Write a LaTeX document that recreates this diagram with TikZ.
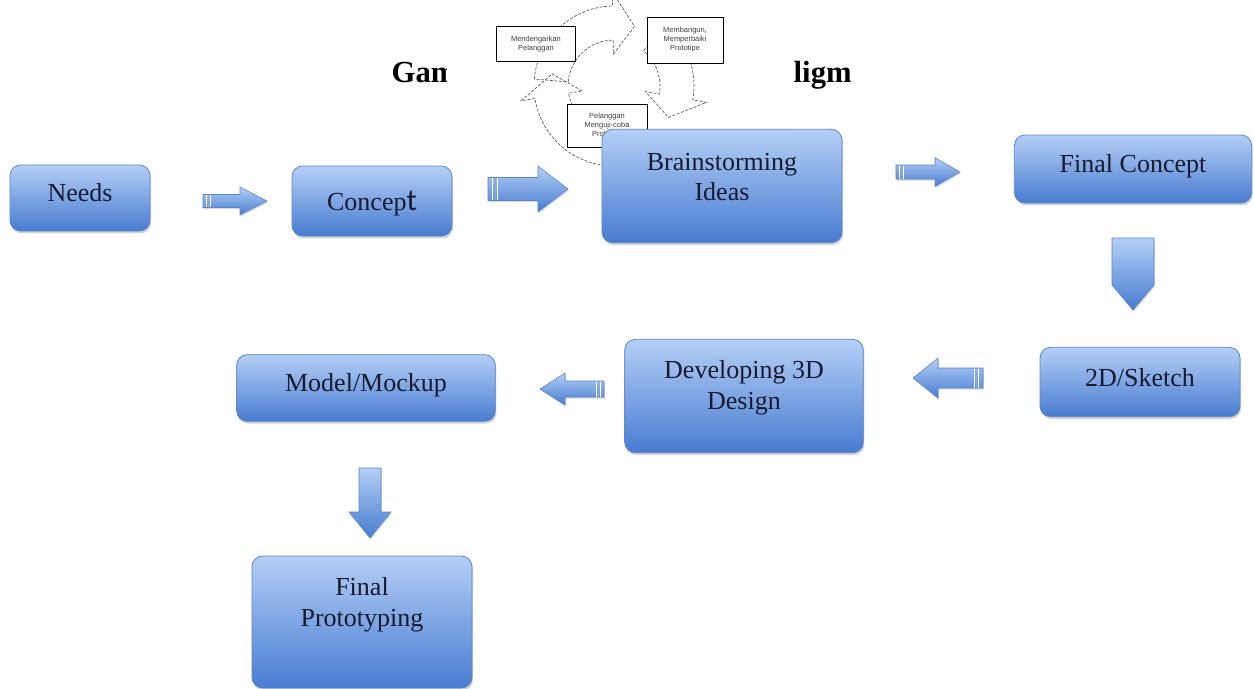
\documentclass[tikz,border=0pt]{standalone}
\usepackage{fontspec}
\setmainfont{Liberation Serif}
\newfontfamily\cyfont{Liberation Sans}
\newfontfamily\tfont{Carlito}
\usetikzlibrary{shadows}

\definecolor{boxtop}{HTML}{B4CFF6}
\definecolor{boxbot}{HTML}{487CD1}
\definecolor{boxedge}{HTML}{5A85C6}
\definecolor{txtc}{HTML}{1A1A2E}

\tikzset{
  stepbox/.style={rectangle, rounded corners=8pt, top color=boxtop, bottom color=boxbot,
    draw=boxedge, line width=0.6pt, inner sep=0pt,
    drop shadow={opacity=0.35, shadow xshift=0.8pt, shadow yshift=-1.8pt}},
  boxtext/.style={align=center, text=txtc, font=\fontsize{19.5}{23}\selectfont, inner sep=0pt},
  arrowshade/.style={top color=boxtop, bottom color=boxbot, draw=boxedge, line width=0.4pt,
    drop shadow={opacity=0.3, shadow xshift=0.6pt, shadow yshift=-1.2pt}},
  cycarrow/.style={draw=black!65, dash pattern=on 2.2pt off 1.2pt, line width=0.5pt},
  cycbox/.style={draw=black, fill=white, line width=0.6pt, text=black!75,
    font=\cyfont\fontsize{5.6}{6.8}\selectfont, align=center, inner sep=1pt},
  titletext/.style={anchor=base west, font=\bfseries\fontsize{23}{27}\selectfont},
}

% horizontal block arrow: tail x, tip x, centre y, head half-width, body half-width, head base x
\newcommand{\harrow}[6]{%
  \shadedraw[arrowshade] (#1,#3-#5) -- (#6,#3-#5) -- (#6,#3-#4) -- (#2,#3)
     -- (#6,#3+#4) -- (#6,#3+#5) -- (#1,#3+#5) -- cycle;
  \draw[white, line width=0.7pt] ({#1+0.06*(#2-#1)},#3-#5+0.5) -- ({#1+0.06*(#2-#1)},#3+#5-0.5);
  \draw[white, line width=0.7pt] ({#1+0.12*(#2-#1)},#3-#5+0.5) -- ({#1+0.12*(#2-#1)},#3+#5-0.5);
  \draw[boxedge!70, line width=0.4pt] ({#1+0.09*(#2-#1)},#3-#5+0.5) -- ({#1+0.09*(#2-#1)},#3+#5-0.5);
}
% vertical block arrow: tail y, tip y, centre x, head half-width, body half-width, head base y
\newcommand{\varrow}[6]{%
  \shadedraw[arrowshade] (#3-#5,#1) -- (#3-#5,#6) -- (#3-#4,#6) -- (#3,#2)
     -- (#3+#4,#6) -- (#3+#5,#6) -- (#3+#5,#1) -- cycle;
}
% curved cycle arrow: start angle, tip angle
\newcommand{\cycarr}[2]{%
  \draw[cycarrow] (#1:80) arc[start angle=#1, end angle=#2-20, radius=80]
     -- (#2-20:94) -- (#2:63) -- (#2-20:32) -- (#2-20:46)
     arc[start angle=#2-20, end angle=#1, radius=46] -- cycle;
}

\begin{document}
\begin{tikzpicture}[x=0.75pt, y=-0.75pt]
\useasboundingbox (0,0) rectangle (1254,689);

% title fragments
\node[titletext] (tleft) at (387,82) {Gam};
\node[titletext] (tright) at (789,82) {ligm};

% background cycle figure (pasted picture with white ground)
\fill[white] (447,0) rectangle (788,162);
\begin{scope}[shift={(614,86)}]
  \cycarr{-175}{-71}
  \cycarr{-50}{30}
  \cycarr{90}{191}
\end{scope}
\node[cycbox, minimum width=59pt, minimum height=26pt] (c1) at (536,44) {Mendengarkan\\Pelanggan};
\node[cycbox, minimum width=57pt, minimum height=34.5pt] (c2) at (685,40) {Membangun,\\Memperbaiki\\Prototipe};
\node[cycbox, minimum width=60pt, minimum height=32pt] (c3) at (607,126) {Pelanggan\\Menguji-coba\\Prototipe};

% main steps
\node[stepbox, minimum width=105pt, minimum height=49.5pt] (needs) at (80,198) {};
\node[boxtext] (needsT) at (80,193) {Needs};
\node[stepbox, minimum width=120pt, minimum height=52.5pt] (concept) at (372,201) {};
\node[boxtext] (conceptT) at (372,204) {Concep{\tfont\fontsize{23}{23}\selectfont t}};
\node[stepbox, minimum width=180pt, minimum height=85pt] (brain) at (722,186) {};
\node[boxtext] (brainT) at (722,177) {Brainstorming\\Ideas};
\node[stepbox, minimum width=178pt, minimum height=51pt] (fconcept) at (1133,169) {};
\node[boxtext] (fconceptT) at (1133,166) {Final Concept};
\node[stepbox, minimum width=150pt, minimum height=52pt] (sketch) at (1140,382) {};
\node[boxtext] (sketchT) at (1140,378) {2D/Sketch};
\node[stepbox, minimum width=179pt, minimum height=85pt] (dev) at (744,396) {};
\node[boxtext] (devT) at (744,388) {Developing 3D\\Design};
\node[stepbox, minimum width=194pt, minimum height=50pt] (model) at (366,388) {};
\node[boxtext] (modelT) at (366,385) {Model/Mockup};
\node[stepbox, minimum width=165pt, minimum height=99pt] (proto) at (362,622) {};
\node[boxtext] (protoT) at (362,605) {Final\\Prototyping};

% block arrows
\harrow{203}{267}{201}{14}{6.5}{240}
\harrow{488}{568}{189}{23}{11.5}{538}
\harrow{896}{960}{172}{14.5}{7}{935}
\harrow{983}{913}{378}{20}{10}{938}
\harrow{604}{540}{389}{16}{8}{565}
\varrow{238}{310}{1133}{21}{21}{285}
\varrow{468}{538}{370}{21}{11}{512}
\end{tikzpicture}
\end{document}
